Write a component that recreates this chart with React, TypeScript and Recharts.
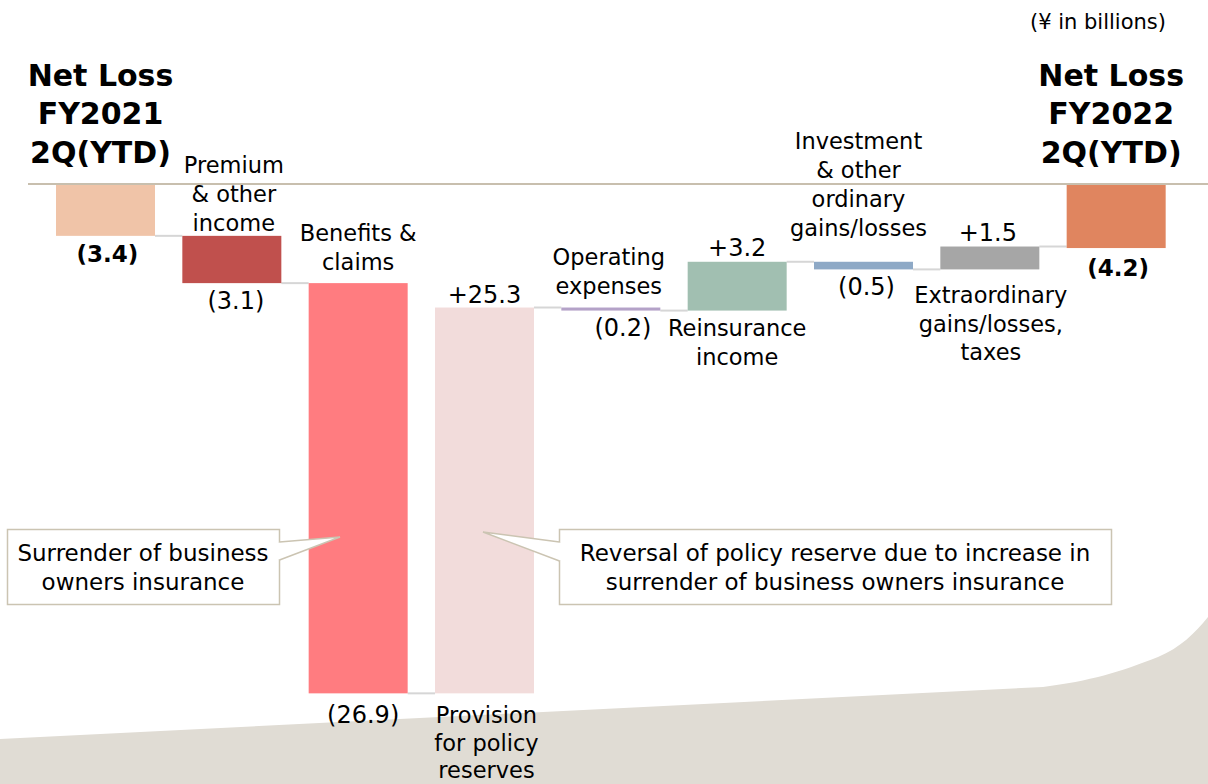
import React from 'react';
import { BarChart, Bar, XAxis, YAxis, ReferenceLine } from 'recharts';

// ¥ in billions
const categories = [
  'Net Loss FY2021 2Q(YTD)',
  'Premium & other income',
  'Benefits & claims',
  'Provision for policy reserves',
  'Operating expenses',
  'Reinsurance income',
  'Investment & other ordinary gains/losses',
  'Extraordinary gains/losses, taxes',
  'Net Loss FY2022 2Q(YTD)',
];
const amounts = [-3.4, -3.1, -26.9, 25.3, -0.2, 3.2, -0.5, 1.5, -4.2];
const isTotal = [true, false, false, false, false, false, false, false, true];
const labelLines = [
  ['Net Loss', 'FY2021', '2Q(YTD)'],
  ['Premium', '& other', 'income'],
  ['Benefits &', 'claims'],
  ['Provision', 'for policy', 'reserves'],
  ['Operating', 'expenses'],
  ['Reinsurance', 'income'],
  ['Investment', '& other', 'ordinary', 'gains/losses'],
  ['Extraordinary', 'gains/losses,', 'taxes'],
  ['Net Loss', 'FY2022', '2Q(YTD)'],
];
const unitLabel = '(¥ in billions)';
const noteLeft = ['Surrender of business', 'owners insurance'];
const noteRight = ['Reversal of policy reserve due to increase in', 'surrender of business owners insurance'];

const COLORS = ['#F0C4A8', '#C0504D', '#FF7C80', '#F2DCDB', '#B4A2C8', '#A1BFB1', '#8EA9C6', '#A6A6A6', '#E0855F'];

// label placement tweaks per bar (px, relative to the bar's top / bottom)
const OFFSETS = [
  { upDy: -32, upDx: -5, downDy: 18, downDx: 2, lh: 29 },
  { upDy: -13, upDx: 2, downDy: 18, downDx: 4, lh: 29 },
  { upDy: -21, upDx: 0, downDy: 22, downDx: 5, lh: 29 },
  { upDy: -13, upDx: 0, downDy: 22, downDx: 2, lh: 27.5 },
  { upDy: -22, upDx: -2, downDy: 17, downDx: 12, lh: 29 },
  { upDy: -14, upDx: 0, downDy: 17, downDx: 0, lh: 29 },
  { upDy: -34, upDx: -5, downDy: 18, downDx: 3, lh: 29 },
  { upDy: -14, upDx: -2, downDy: 26, downDx: 1, lh: 28.5 },
  { upDy: -32, upDx: -5, downDy: 20, downDx: 2, lh: 29 },
];

const W = 1208;
const H = 784;
const MARGIN = { top: 184, right: 0, bottom: 51, left: 28 };
const PAD = { left: 14, right: 29 };
const BAR = 99;
const BAND = (W - MARGIN.left - MARGIN.right - PAD.left - PAD.right) / categories.length;
const GAP = BAND - BAR;
const FONT = '"DejaVu Sans", Verdana, sans-serif';

let running = 0;
const data = categories.map((name, i) => {
  const delta = amounts[i];
  let start = running;
  let end = running + delta;
  if (isTotal[i]) {
    start = 0;
    end = delta;
  }
  running = end;
  return { name, delta, idx: i, range: [Math.min(start, end), Math.max(start, end)] };
});

const fmt = (v: number) => (v < 0 ? `(${Math.abs(v).toFixed(1)})` : `+${v.toFixed(1)}`);

const WaterfallBar = (props: any) => {
  const { x, y, width, height, payload } = props;
  const i = payload.idx;
  const top = Math.min(y, y + height);
  const bottom = top + Math.abs(height);
  const cx = x + width / 2;
  const off = OFFSETS[i];
  const total = isTotal[i];
  const neg = payload.delta < 0;
  const lines = labelLines[i];
  const valueText = fmt(payload.delta);

  const upLines = neg ? lines : [valueText];
  const downLines = neg ? [valueText] : lines;

  const endY = neg ? bottom : top;

  return (
    <g>
      {i < categories.length - 1 && (
        <line x1={x + width} x2={x + width + GAP} y1={endY} y2={endY} stroke="#D6D6D6" strokeWidth={2} />
      )}
      <rect x={x} y={top} width={width} height={Math.max(bottom - top, 1)} fill={COLORS[i]} />
      {upLines.map((t, k) => (
        <text
          key={`u${k}`}
          x={cx + off.upDx}
          y={top + off.upDy - (upLines.length - 1 - k) * (total ? 38.5 : off.lh)}
          textAnchor="middle"
          dominantBaseline="central"
          fontFamily={FONT}
          fontSize={total ? 30 : neg ? 22.5 : 24}
          fontWeight={total ? 700 : 400}
          fill="#000"
        >
          {t}
        </text>
      ))}
      {downLines.map((t, k) => (
        <text
          key={`d${k}`}
          x={cx + off.downDx}
          y={bottom + off.downDy + k * off.lh}
          textAnchor="middle"
          dominantBaseline="central"
          fontFamily={FONT}
          fontSize={total ? 23 : neg ? 24 : 22.5}
          fontWeight={total ? 700 : 400}
          fill="#000"
        >
          {t}
        </text>
      ))}
    </g>
  );
};

const Callout = ({ box, tip, base, lines, textX }: any) => (
  <g>
    <rect x={box[0]} y={box[1]} width={box[2]} height={box[3]} fill="#fff" stroke="#CBC4B2" strokeWidth={1.5} />
    <polygon points={`${base[0]},${base[1]} ${tip[0]},${tip[1]} ${base[0]},${base[2]}`} fill="#fff" />
    <line x1={base[0]} x2={base[0]} y1={base[1] + 1} y2={base[2] - 1} stroke="#fff" strokeWidth={3} />
    <polyline
      points={`${base[0]},${base[1]} ${tip[0]},${tip[1]} ${base[0]},${base[2]}`}
      fill="none"
      stroke="#CBC4B2"
      strokeWidth={1.5}
    />
    {lines.map((t: string, k: number) => (
      <text
        key={k}
        x={textX}
        y={553 + k * 29}
        textAnchor="middle"
        dominantBaseline="central"
        fontFamily={FONT}
        fontSize={23}
        fill="#000"
      >
        {t}
      </text>
    ))}
  </g>
);

export default function App() {
  return (
    <div style={{ position: 'absolute', left: 0, top: 0, width: W, height: H, background: '#fff', overflow: 'hidden' }}>
      <svg width={W} height={H} style={{ position: 'absolute', left: 0, top: 0 }}>
        <path
          d="M0,739 L1043,687 C1090,681 1120,672 1158,657 C1180,648 1195,633 1208,617 L1208,784 L0,784 Z"
          fill="#E0DCD4"
        />
        <text
          x={1098}
          y={22}
          textAnchor="middle"
          dominantBaseline="central"
          fontFamily={FONT}
          fontSize={21}
          fill="#000"
        >
          {unitLabel}
        </text>
      </svg>
      <div style={{ position: 'absolute', left: 0, top: 0 }}>
        <BarChart width={W} height={H} data={data} margin={MARGIN}>
          <XAxis dataKey="name" hide padding={PAD} />
          <YAxis type="number" hide domain={[-36, 0]} />
          <ReferenceLine y={0} stroke="#C8BFAE" strokeWidth={2} />
          <Bar
            dataKey="range"
            barSize={BAR}
            isAnimationActive={false}
            shape={(p: any) => <WaterfallBar {...p} />}
          />
        </BarChart>
      </div>
      <svg width={W} height={H} style={{ position: 'absolute', left: 0, top: 0, pointerEvents: 'none' }}>
        <Callout box={[7.5, 529.5, 272, 75]} tip={[340, 537]} base={[279.5, 542, 560]} lines={noteLeft} textX={143} />
        <Callout box={[559.5, 529.5, 552, 75]} tip={[483, 532]} base={[559.5, 542, 561]} lines={noteRight} textX={835} />
      </svg>
    </div>
  );
}
